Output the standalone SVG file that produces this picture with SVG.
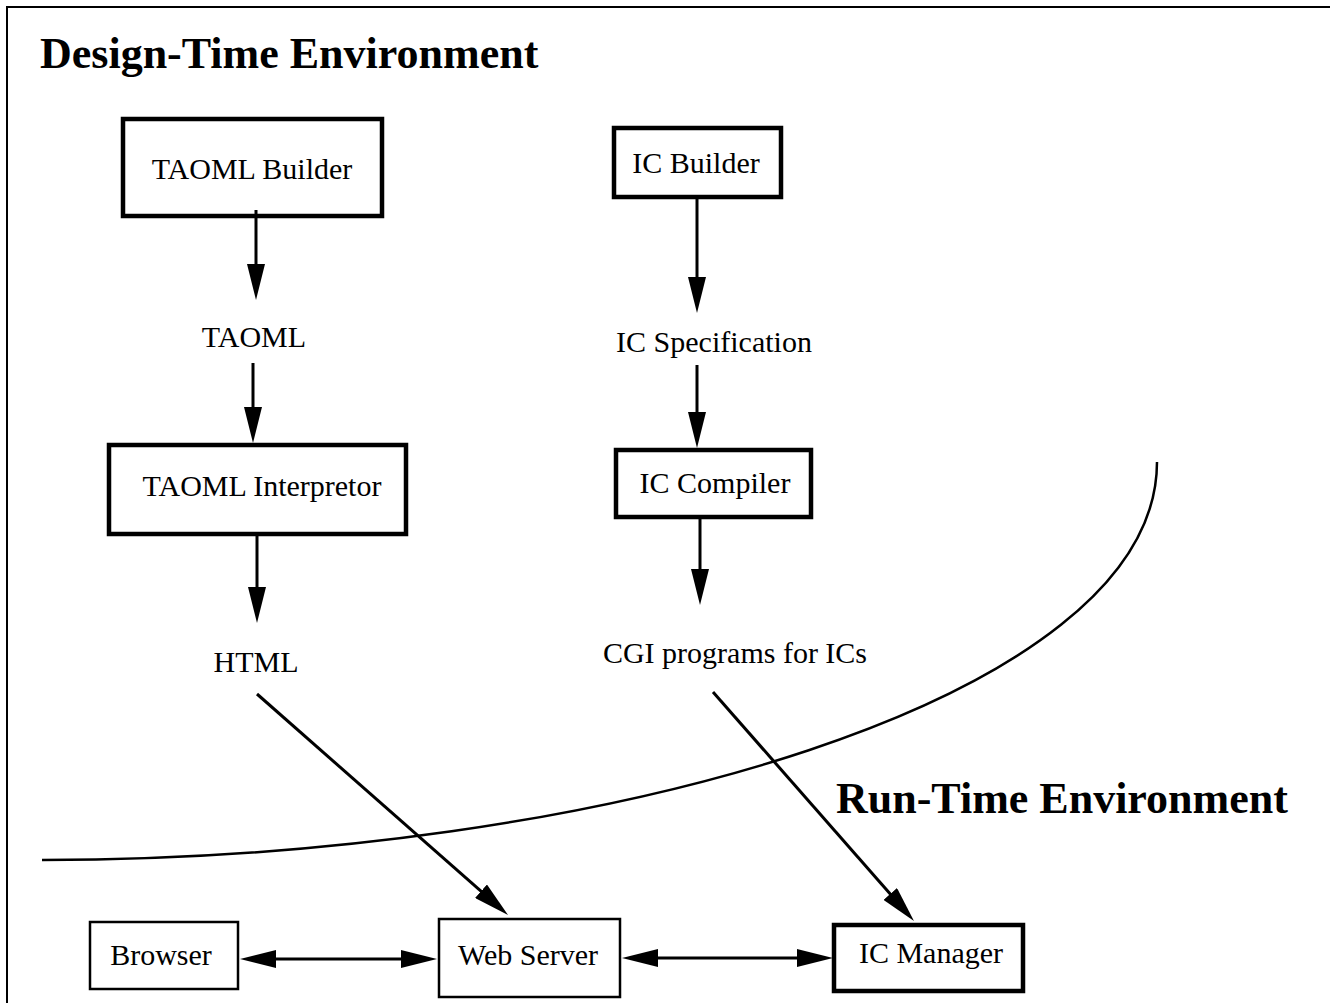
<svg xmlns="http://www.w3.org/2000/svg" width="1338" height="1003" viewBox="0 0 1338 1003">
<style>
.bg{fill:#fff}
.frame{fill:none;stroke:#000;stroke-width:2}
.thick{fill:#fff;stroke:#000;stroke-width:4.5}
.thin{fill:#fff;stroke:#000;stroke-width:2.5}
.lbl{font-family:"Liberation Serif","Times New Roman",serif;font-size:30px;fill:#000;text-anchor:middle}
.title{font-family:"Liberation Serif","Times New Roman",serif;font-size:44px;font-weight:bold;fill:#000}
.conn{fill:none;stroke:#000;stroke-width:3}
.curve{fill:none;stroke:#000;stroke-width:2.5}
</style>
<defs>
<marker id="ah" markerUnits="userSpaceOnUse" markerWidth="36" markerHeight="18" refX="6" refY="9" orient="auto-start-reverse" viewBox="0 0 36 18">
<path d="M0,0 L36,9 L0,18 z" fill="#000"/>
</marker>
</defs>
<rect class="bg" x="0" y="0" width="1338" height="1003"/>
<path class="frame" d="M7,1003 V7 H1330"/>
<text class="title" x="40" y="68">Design-Time Environment</text>
<text class="title" x="836" y="813">Run-Time Environment</text>
<path class="curve" d="M42,860 C600,860 1157,700 1157,462"/>

<g id="taoml-builder"><rect class="thick" x="123" y="119" width="259" height="97"/><text class="lbl" x="252" y="179">TAOML Builder</text></g>
<g id="ic-builder"><rect class="thick" x="614" y="128" width="167" height="69"/><text class="lbl" x="696" y="173">IC Builder</text></g>
<g id="taoml"><text class="lbl" x="254" y="347">TAOML</text></g>
<g id="ic-spec"><text class="lbl" x="714" y="352">IC Specification</text></g>
<g id="taoml-interp"><rect class="thick" x="109" y="445" width="297" height="89"/><text class="lbl" x="262" y="496">TAOML Interpretor</text></g>
<g id="ic-compiler"><rect class="thick" x="616" y="450" width="195" height="67"/><text class="lbl" x="715" y="493">IC Compiler</text></g>
<g id="html"><text class="lbl" x="256" y="672">HTML</text></g>
<g id="cgi"><text class="lbl" x="735" y="663">CGI programs for ICs</text></g>
<g id="browser"><rect class="thin" x="90" y="922" width="148" height="67"/><text class="lbl" x="161" y="965">Browser</text></g>
<g id="web-server"><rect class="thin" x="439" y="919" width="181" height="78"/><text class="lbl" x="528" y="965">Web Server</text></g>
<g id="ic-manager"><rect class="thick" x="834" y="925" width="189" height="66"/><text class="lbl" x="931" y="963">IC Manager</text></g>

<g id="connectors">
<line class="conn" x1="256" y1="210" x2="256" y2="270" marker-end="url(#ah)"/>
<line class="conn" x1="253" y1="363" x2="253" y2="413" marker-end="url(#ah)"/>
<line class="conn" x1="257" y1="536" x2="257" y2="593" marker-end="url(#ah)"/>
<line class="conn" x1="697" y1="199" x2="697" y2="283" marker-end="url(#ah)"/>
<line class="conn" x1="697" y1="365" x2="697" y2="418" marker-end="url(#ah)"/>
<line class="conn" x1="700" y1="519" x2="700" y2="575" marker-end="url(#ah)"/>
<line class="conn" x1="257" y1="694" x2="485.5" y2="895.2" marker-end="url(#ah)"/>
<line class="conn" x1="713" y1="692" x2="894.2" y2="898.5" marker-end="url(#ah)"/>
<line class="conn" x1="270" y1="959" x2="407" y2="959" marker-start="url(#ah)" marker-end="url(#ah)"/>
<line class="conn" x1="652" y1="958" x2="803" y2="958" marker-start="url(#ah)" marker-end="url(#ah)"/>
</g>
</svg>
